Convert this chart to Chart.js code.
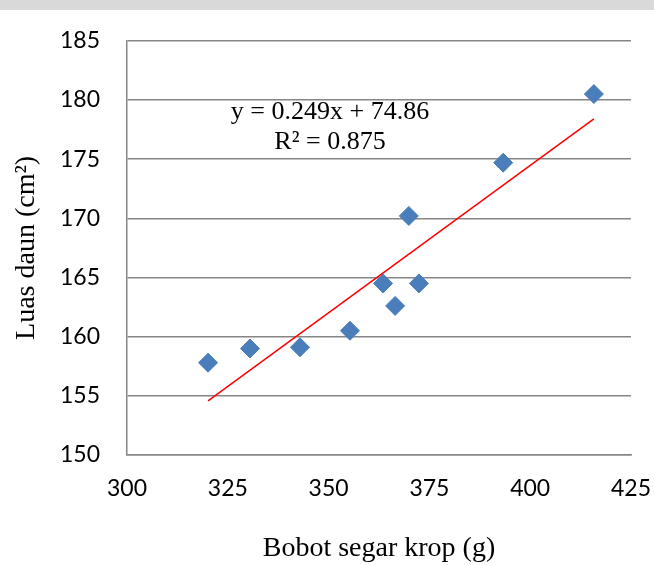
<!DOCTYPE html>
<html>
<head>
<meta charset="utf-8">
<script src="https://cdn.jsdelivr.net/npm/chart.js@4/dist/chart.umd.min.js"></script>
<style>
	body{margin:0;background:#fff;}
	#wrap{width:654px;height:565px;position:relative;}
</style>
</head>
<body>
<div id="wrap"><canvas id="chart" width="654" height="565"></canvas></div>
<script>
	// bobot segar krop (g) vs luas daun (cm2)
	var bobot=[320.1,330.5,342.9,355.3,363.5,366.5,369.9,372.4,393.3,415.8];
	var luas=[157.8,159.0,159.1,160.5,164.5,162.6,170.2,164.5,174.7,180.5];
	var slope=0.249, intercept=74.86;
	var eqLines=["y = 0.249x + 74.86","R² = 0.875"];
	var xTicks=[300,325,350,375,400,425];
	var yTicks=[150,155,160,165,170,175,180,185];

	function $map(arr,fn){ for(var i=0;i<arr.length;i++) fn(arr[i],i); }
	var points=[];
	$map(bobot,function(val,ind){ points.push({x:val,y:luas[ind]}); });

	var xMin=Math.min.apply(null,bobot), xMax=Math.max.apply(null,bobot);
	var trend=[{x:xMin,y:slope*xMin+intercept},{x:xMax,y:slope*xMax+intercept}];

	var pagePlugin={
		id:"page",
		beforeDraw:function(chart){
			var ctx=chart.ctx;
			ctx.save();
			ctx.fillStyle="#fff";
			ctx.fillRect(0,0,chart.width,chart.height);
			ctx.fillStyle="#d9d9d9";
			ctx.fillRect(0,0,chart.width,10);
			ctx.restore();
		},
		afterDraw:function(chart){
			var ctx=chart.ctx;
			ctx.save();
			ctx.fillStyle="#000";
			ctx.font="26px 'Liberation Serif'";
			ctx.textAlign="center";
			ctx.textBaseline="middle";
			ctx.fillText(eqLines[0],330,112);
			ctx.fillText(eqLines[1],330,142);
			ctx.restore();
		}
	};

	new Chart(document.getElementById("chart"),{
		type:"scatter",
		data:{
			datasets:[
				{label:"Luas daun",data:points,pointStyle:"rectRot",pointRadius:9.5,pointHoverRadius:9.5,
					backgroundColor:"#4a7ebb",borderColor:"#4a7ebb",borderWidth:1,order:2},
				{label:"Linear",type:"line",data:trend,borderColor:"#ff0000",borderWidth:1.5,pointRadius:0,fill:false,order:1}
			]
		},
		options:{
			responsive:false,
			animation:false,
			layout:{padding:{top:40,right:23,bottom:0,left:0}},
			plugins:{legend:{display:false},tooltip:{enabled:false}},
			scales:{
				x:{
					type:"linear",min:300,max:425,
					afterBuildTicks:function(s){ s.ticks=xTicks.map(function(v){return {value:v};}); },
					afterFit:function(s){ s.height=110; s.paddingLeft=0; s.paddingRight=0; },
					grid:{display:false,drawTicks:false},
					border:{display:true,color:"#868686",width:1.5},
					ticks:{padding:20,color:"#000",font:{family:"Lato",size:23}},
					title:{display:true,text:"Bobot segar krop (g)",color:"#000",padding:{top:0,bottom:0},
						font:{family:"Liberation Serif",size:28}}
				},
				y:{
					min:150,max:185,
					afterBuildTicks:function(s){ s.ticks=yTicks.map(function(v){return {value:v};}); },
					afterFit:function(s){ s.width=127; },
					grid:{color:"#868686",lineWidth:1.5,drawTicks:false},
					border:{display:true,color:"#868686",width:1.5},
					ticks:{padding:27,color:"#000",font:{family:"Lato",size:23}},
					title:{display:true,text:"Luas daun (cm²)",color:"#000",padding:{top:10,bottom:0},
						font:{family:"Liberation Serif",size:28}}
				}
			}
		},
		plugins:[pagePlugin]
	});
</script>
</body>
</html>
